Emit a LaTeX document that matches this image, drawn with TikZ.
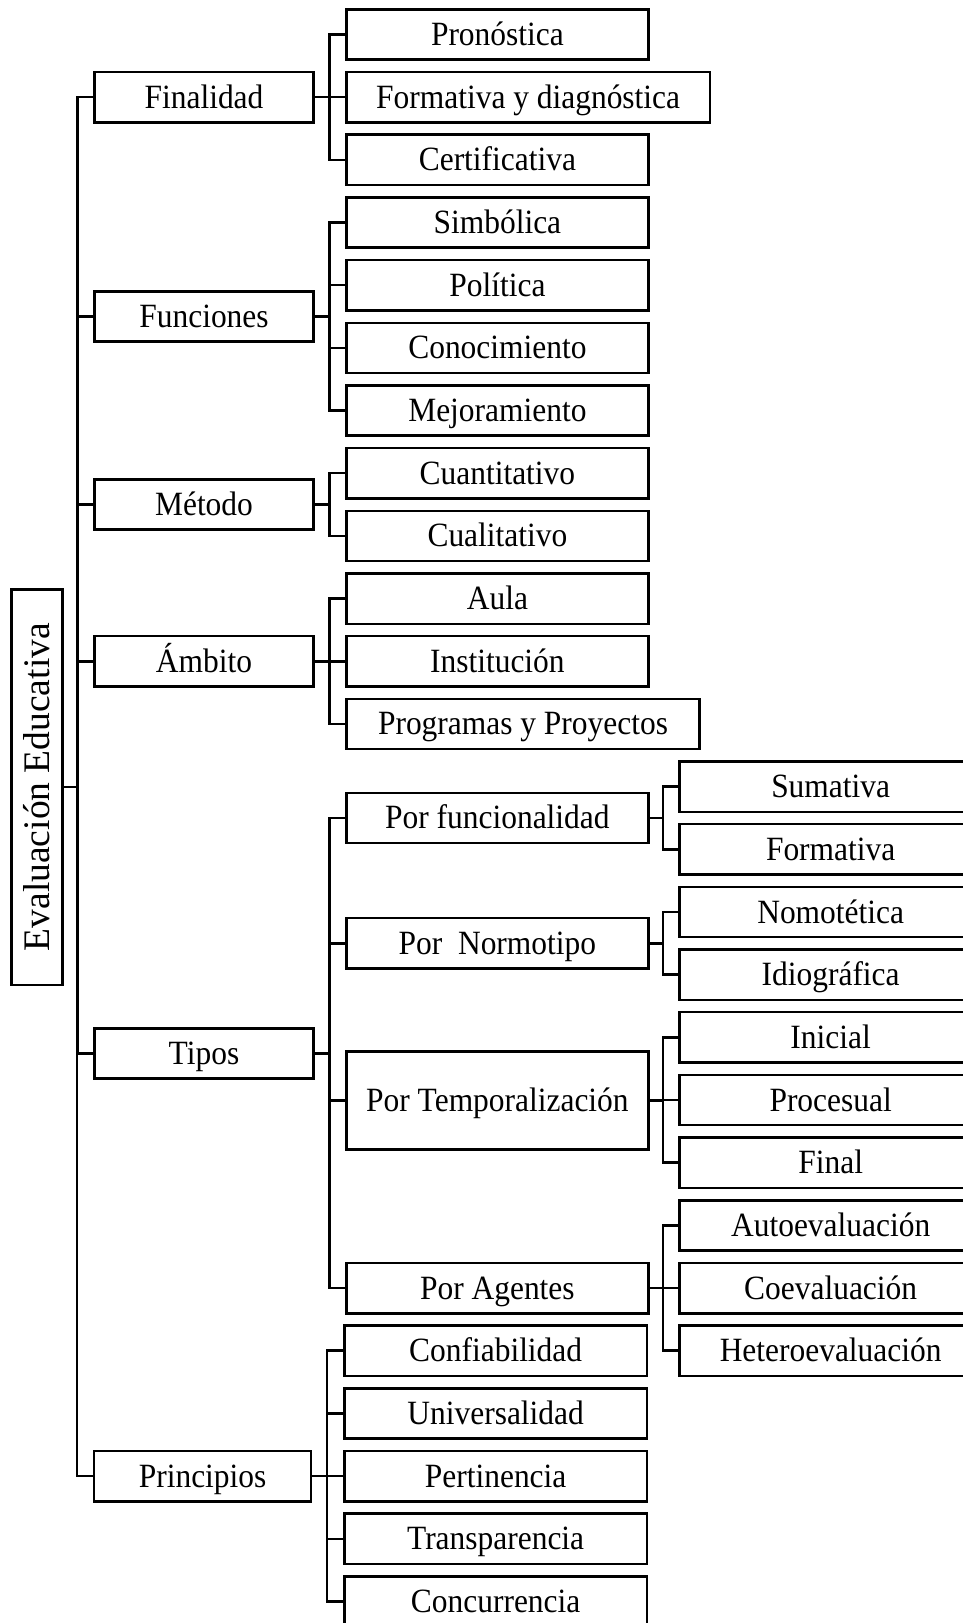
\documentclass[tikz,border=0pt]{standalone}
\usepackage{fontspec}
\setmainfont{Liberation Serif}
\newfontfamily\boxfont[FakeStretch=0.925]{Liberation Serif}
\begin{document}
\begin{tikzpicture}[x=1pt,y=-1pt,
  box/.style={draw, line width=2.5pt, inner sep=0pt, minimum height=50.3pt,
    text height=22pt, text depth=0pt, font=\boxfont\fontsize{34}{38}\selectfont},
  topbox/.style={box, minimum width=219pt},
  midbox/.style={box, minimum width=301.7pt, anchor=west},
  leafbox/.style={box, minimum width=302pt, anchor=west},
  link/.style={line width=2.5pt, line join=miter}]
\useasboundingbox (0,0) rectangle (963,1623);
\clip (0,0) rectangle (963,1623);

% root
\node[box, rotate=90, minimum width=395.7pt, minimum height=50.6pt,
  text height=25pt, font=\fontsize{37.5}{42}\selectfont] (ee) at (37,787.2) {Evaluación Educativa};

% first level
\node[topbox] (fin) at (204,97.1) {Finalidad};
\node[topbox] (fun) at (204,316.5) {Funciones};
\node[topbox] (met) at (204,504.5) {Método};
\node[topbox] (amb) at (204,661.3) {Ámbito};
\node[topbox] (tip) at (204,1053.5) {Tipos};
\node[topbox, minimum width=216.8pt] (pri) at (202.6,1476.1) {Principios};

% Finalidad
\node[midbox] (fin1) at (345.3,34.5) {Pronóstica};
\node[midbox, minimum width=363.2pt] (fin2) at (345.3,97.1) {Formativa y diagnóstica};
\node[midbox] (fin3) at (345.3,159.8) {Certificativa};
% Funciones
\node[midbox] (fun1) at (345.3,222.5) {Simbólica};
\node[midbox] (fun2) at (345.3,285.2) {Política};
\node[midbox] (fun3) at (345.3,347.9) {Conocimiento};
\node[midbox] (fun4) at (345.3,410.5) {Mejoramiento};
% Método
\node[midbox] (met1) at (345.3,473.2) {Cuantitativo};
\node[midbox] (met2) at (345.3,535.9) {Cualitativo};
% Ámbito
\node[midbox] (amb1) at (345.3,598.6) {Aula};
\node[midbox] (amb2) at (345.3,661.3) {Institución};
\node[midbox, minimum width=353pt] (amb3) at (345.3,723.9) {Programas y Proyectos};
% Tipos
\node[midbox] (tip1) at (345.3,817.95) {Por funcionalidad};
\node[midbox] (tip2) at (345.3,943.35) {Por~~Normotipo};
\node[midbox, minimum height=98.3pt] (tip3) at (345.3,1100.4) {Por Temporalización};
\node[midbox] (tip4) at (345.3,1288.1) {Por Agentes};
% Principios
\node[midbox, minimum width=302.2pt] (pri1) at (343.3,1350.7) {Confiabilidad};
\node[midbox, minimum width=302.2pt] (pri2) at (343.3,1413.4) {Universalidad};
\node[midbox, minimum width=302.2pt] (pri3) at (343.3,1476.1) {Pertinencia};
\node[midbox, minimum width=302.2pt] (pri4) at (343.3,1538.8) {Transparencia};
\node[midbox, minimum width=302.2pt] (pri5) at (343.3,1601.5) {Concurrencia};

% third level under Tipos
\node[leafbox] (f1) at (678.4,786.6) {Sumativa};
\node[leafbox] (f2) at (678.4,849.3) {Formativa};
\node[leafbox] (n1) at (678.4,912.0) {Nomotética};
\node[leafbox] (n2) at (678.4,974.7) {Idiográfica};
\node[leafbox] (t1) at (678.4,1037.3) {Inicial};
\node[leafbox] (t2) at (678.4,1100.0) {Procesual};
\node[leafbox] (t3) at (678.4,1162.7) {Final};
\node[leafbox] (a1) at (678.4,1225.4) {Autoevaluación};
\node[leafbox] (a2) at (678.4,1288.1) {Coevaluación};
\node[leafbox] (a3) at (678.4,1350.7) {Heteroevaluación};

% connectors: root trunk
\foreach \c in {fin,fun,met,amb,tip,pri}
  \draw[link] (\c.west) -- ++(-16,0) |- (ee.south);

% connectors: second level
\foreach \c in {fin1,fin2,fin3}
  \draw[link] (\c.west) -- ++(-15.6,0) |- (fin.east);
\foreach \c in {fun1,fun2,fun3,fun4}
  \draw[link] (\c.west) -- ++(-15.6,0) |- (fun.east);
\foreach \c in {met1,met2}
  \draw[link] (\c.west) -- ++(-15.6,0) |- (met.east);
\foreach \c in {amb1,amb2,amb3}
  \draw[link] (\c.west) -- ++(-15.6,0) |- (amb.east);
\foreach \c in {tip1,tip2,tip3,tip4}
  \draw[link] (\c.west) -- ++(-15.6,0) |- (tip.east);
\foreach \c in {pri1,pri2,pri3,pri4,pri5}
  \draw[link] (\c.west) -- ++(-16.3,0) |- (pri.east);

% connectors: third level
\foreach \c in {f1,f2}
  \draw[link] (\c.west) -- ++(-15.6,0) |- (tip1.east);
\foreach \c in {n1,n2}
  \draw[link] (\c.west) -- ++(-15.6,0) |- (tip2.east);
\foreach \c in {t1,t2,t3}
  \draw[link] (\c.west) -- ++(-15.6,0) |- (tip3.east);
\foreach \c in {a1,a2,a3}
  \draw[link] (\c.west) -- ++(-15.6,0) |- (tip4.east);
\end{tikzpicture}
\end{document}
